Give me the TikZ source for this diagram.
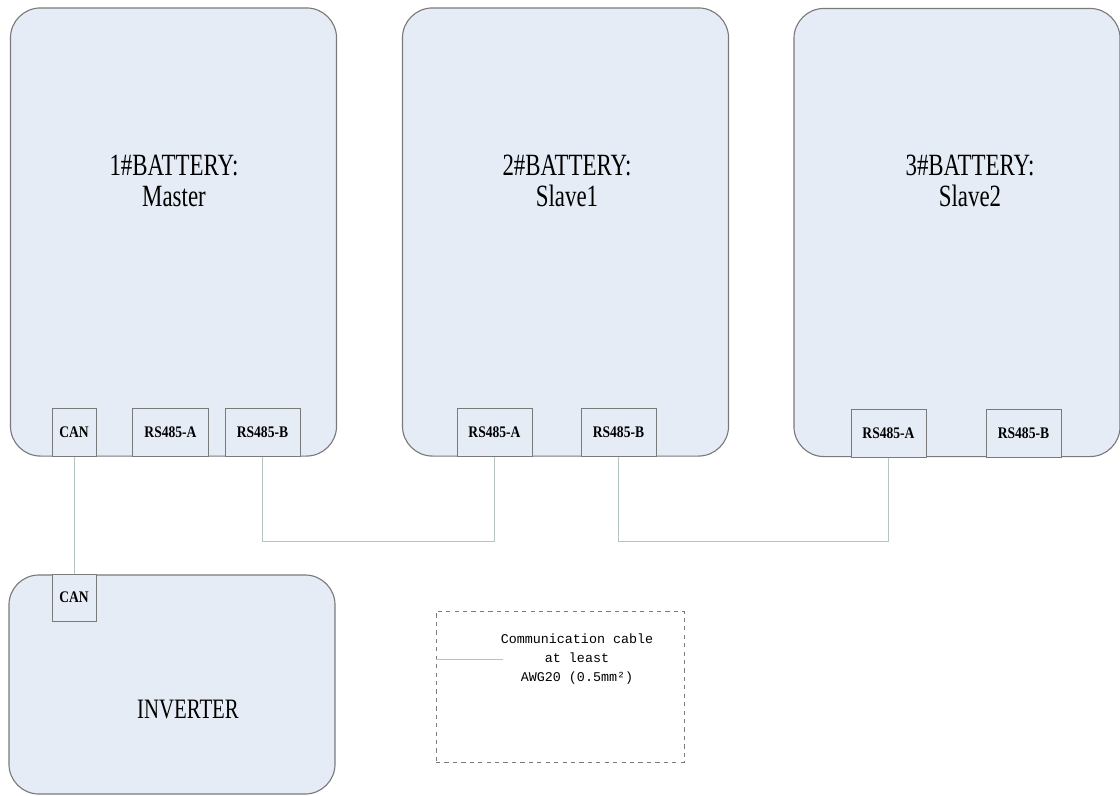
\documentclass[tikz,border=0pt]{standalone}
\usepackage{fontspec}
\setmainfont{Liberation Serif}
\newfontfamily\titlefont[FakeStretch=0.74]{Liberation Serif}
\newfontfamily\portfont[FakeStretch=0.84]{Liberation Serif}
\newfontfamily\notefont{Liberation Mono}
\definecolor{boxfill}{HTML}{E6ECF6}
\definecolor{boxline}{HTML}{7A7A7A}
\definecolor{wire}{HTML}{B4C6BD}
\tikzset{
  battery box/.style={
    draw=boxline,
    fill=boxfill,
    line width=0.8pt,
    rounded corners=0.75cm,
    minimum width=8.15cm,
    minimum height=11.2cm,
  },
  port box/.style={
    draw=boxline,
    fill=boxfill,
    line width=0.7pt,
    minimum height=1.2cm,
    inner sep=0pt,
    font=\portfont\bfseries\fontsize{11.5}{13}\selectfont,
  },
  title text/.style={
    align=center,
    font=\titlefont\fontsize{22}{22}\selectfont,
  },
  com line/.style={
    wire,
    line width=0.7pt,
  }
}

\begin{document}
\begin{tikzpicture}[x=0.025cm,y=-0.025cm]
\useasboundingbox (0,0) rectangle (1120,796);

% batteries
\node[battery box] (bat1) at (173.5,232) {};
\node[battery box] (bat2) at (565.5,232) {};
\node[battery box] (bat3) at (957,232.5) {};
\node[title text] (tit1) at (174,181) {1\#BATTERY:\\Master};
\node[title text] (tit2) at (567,181) {2\#BATTERY:\\Slave1};
\node[title text] (tit3) at (970,181) {3\#BATTERY:\\Slave2};

% inverter
\node[battery box, minimum height=5.475cm] (inv) at (172,684.5) {};
\node[title text, font=\titlefont\fontsize{20}{20}\selectfont] (invtit) at (188,709) {INVERTER};

% ports
\node[port box, minimum width=1.1cm] (can1) at (74,432) {CAN};
\node[port box, minimum width=1.875cm] (b1a) at (170.5,432) {RS485-A};
\node[port box, minimum width=1.875cm] (b1b) at (262.5,432) {RS485-B};
\node[port box, minimum width=1.875cm] (b2a) at (494.5,432) {RS485-A};
\node[port box, minimum width=1.875cm] (b2b) at (618.5,432) {RS485-B};
\node[port box, minimum width=1.875cm] (b3a) at (888.5,433.5) {RS485-A};
\node[port box, minimum width=1.875cm] (b3b) at (1023.5,433.5) {RS485-B};
\node[port box, minimum width=1.1cm, minimum height=1.175cm] (caninv) at (74,597.5) {CAN};

% cables
\draw[com line] (can1.south) -- (caninv.north);
\draw[com line] (b1b.south) -- ++(0,85) -| (b2a.south);
\draw[com line] (b2b.south) -- ++(0,85) -| (b3a.south);

% note
\node[draw=boxline, dashed, line width=0.6pt, minimum width=6.2cm, minimum height=3.775cm] (note) at (560,686.5) {};
\node[align=center, font=\notefont\fontsize{9.5}{13.8}\selectfont] (notetext) at (577,659)
  {Communication cable\\at least\\AWG20 (0.5mm²)};
\coordinate (tick) at (503,659);
\draw[com line, gray!50] (note.west |- tick) -- (tick);

\end{tikzpicture}
\end{document}
